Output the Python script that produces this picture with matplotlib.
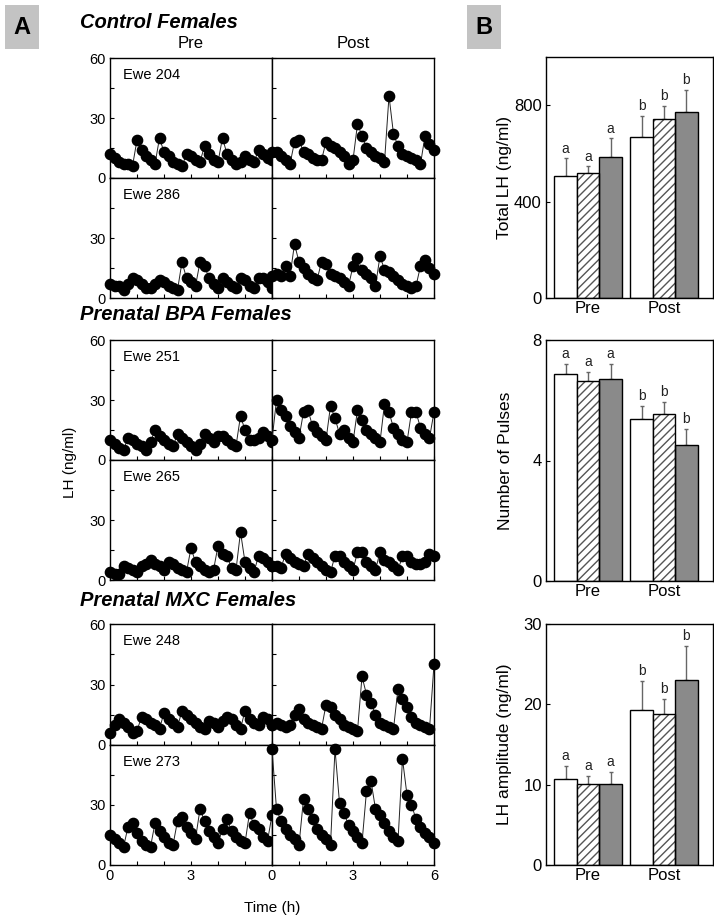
import matplotlib
matplotlib.use('Agg')
import matplotlib.pyplot as plt
from matplotlib.patches import Rectangle
import numpy as np

plt.rcParams['font.family'] = ['Liberation Sans', 'DejaVu Sans']

# ---------------- data ----------------
sample_minutes = np.arange(0, 361, 10)          # 10-min sampling, 6 h
times_h = sample_minutes / 60.0

ewe204_pre = [12,10,8,7,7,6,19,14,11,9,7,20,13,11,8,7,6,12,11,9,8,16,12,9,8,20,12,9,7,8,11,9,8,14,12,10,9]
ewe204_post = [13,13,11,9,7,18,19,13,12,10,9,9,18,16,15,13,11,7,9,27,21,15,13,11,10,8,41,22,16,12,11,10,9,7,21,17,14]
ewe286_pre = [7,6,6,4,7,10,9,7,5,5,7,9,8,6,5,4,18,10,8,6,18,16,10,7,5,10,8,6,5,10,9,6,5,10,10,8,5]
ewe286_post = [11,12,11,16,11,27,18,15,12,10,9,18,17,12,11,10,8,6,16,20,14,12,10,6,21,14,13,11,9,7,6,5,6,16,19,15,12]
ewe251_pre = [10,8,6,5,11,10,8,7,5,9,15,12,10,8,7,13,11,9,7,5,8,13,11,9,12,12,10,8,7,22,15,10,10,11,14,12,9]
ewe251_post = [10,30,25,22,17,14,11,24,25,17,14,12,10,27,21,13,15,11,9,25,20,15,13,11,9,28,24,16,13,10,9,24,24,16,13,11,24]
ewe265_pre = [4,3,3,7,6,5,4,7,8,10,8,7,5,9,8,6,5,4,16,9,7,5,4,5,17,13,12,6,5,24,9,6,4,12,11,9,7]
ewe265_post = [7,7,6,13,11,9,8,7,13,11,9,7,5,4,12,12,9,7,5,14,14,9,7,5,14,10,9,7,5,12,12,9,8,8,9,13,12]
ewe248_pre = [6,10,13,11,9,6,7,14,13,11,10,8,16,13,11,9,17,15,13,11,9,8,12,11,9,12,14,13,10,8,17,13,11,10,14,13,10]
ewe248_post = [10,11,10,9,10,15,18,13,11,10,9,8,20,19,15,13,10,9,8,7,34,25,21,15,11,10,9,8,28,23,19,14,11,10,9,8,40]
ewe273_pre = [15,13,11,9,19,21,16,12,10,9,21,17,14,11,10,22,24,19,16,13,28,22,17,14,11,18,23,17,14,12,11,26,20,18,14,12,25]
ewe273_post = [58,28,22,18,15,13,10,33,28,23,18,15,13,10,58,31,26,20,17,14,11,37,42,28,25,21,17,14,12,53,35,30,23,19,16,14,11]

group_titles = ['Control Females', 'Prenatal BPA Females', 'Prenatal MXC Females']
ewe_names = ['Ewe 204', 'Ewe 286', 'Ewe 251', 'Ewe 265', 'Ewe 248', 'Ewe 273']
pre_series = [ewe204_pre, ewe286_pre, ewe251_pre, ewe265_pre, ewe248_pre, ewe273_pre]
post_series = [ewe204_post, ewe286_post, ewe251_post, ewe265_post, ewe248_post, ewe273_post]

periods = ['Pre', 'Post']
total_lh_control = [508, 667]
total_lh_bpa = [517, 742]
total_lh_mxc = [583, 771]
total_lh_err_control = [71, 87]
total_lh_err_bpa = [29, 54]
total_lh_err_mxc = [79, 91]
total_lh_letters = ['a', 'b']

pulses_control = [6.88, 5.38]
pulses_bpa = [6.64, 5.55]
pulses_mxc = [6.70, 4.52]
pulses_err_control = [0.32, 0.42]
pulses_err_bpa = [0.30, 0.40]
pulses_err_mxc = [0.50, 0.53]
pulses_letters = ['a', 'b']

amp_control = [10.7, 19.3]
amp_bpa = [10.1, 18.8]
amp_mxc = [10.1, 23.0]
amp_err_control = [1.6, 3.6]
amp_err_bpa = [1.0, 1.9]
amp_err_mxc = [1.5, 4.3]
amp_letters = ['a', 'b']

# ---------------- figure ----------------
W, H = 714, 923
fig = plt.figure(figsize=(W / 100, H / 100), dpi=100)


def ax_px(l, t, r, b):
    return fig.add_axes([l / W, 1 - b / H, (r - l) / W, (b - t) / H])


def ftext(x, y, s, **kw):
    fig.text(x / W, 1 - y / H, s, **kw)


# panel letters
for (x0, lab) in [(5, 'A'), (467, 'B')]:
    fig.patches.append(Rectangle((x0 / W, 1 - 49 / H), 34 / W, 44 / H,
                                 transform=fig.transFigure, facecolor='#c3c3c3',
                                 edgecolor='none'))
    ftext(x0 + 17, 28, lab, ha='center', va='center', fontsize=17, fontweight='bold')

# ---------------- panel A ----------------
row_px = [(58, 178), (178, 298), (340, 460), (460, 580), (624, 745), (745, 865)]
title_y = [22, 315, 600]

for i, (top, bot) in enumerate(row_px):
    first_in_group = (i % 2 == 0)
    last_row = (i == len(row_px) - 1)
    for j, (l, r) in enumerate([(110, 272), (272, 434)]):
        ax = ax_px(l, top, r, bot)
        data = pre_series[i] if j == 0 else post_series[i]
        ax.plot(times_h, data, color='#222222', lw=0.7, marker='o', ms=7.4,
                mfc='black', mec='black', clip_on=False, zorder=3)
        ax.set_xlim(0, 6)
        ax.set_ylim(0, 60)
        ax.set_xticks(range(7))
        ax.set_yticks([0, 30, 60])
        ax.set_yticks([15, 45], minor=True)
        ax.tick_params(which='both', direction='in', length=3, width=0.8,
                       labelsize=10.5, pad=3)
        if j == 0:
            ax.set_yticklabels(['0', '30', '60' if first_in_group else ''])
        else:
            ax.set_yticklabels([])
        if last_row:
            if j == 0:
                ax.set_xticklabels(['0', '', '', '3', '', '', ''])
            else:
                ax.set_xticklabels(['0', '', '', '3', '', '', '6'])
        else:
            ax.set_xticklabels([])
        for s in ax.spines.values():
            s.set_linewidth(1.0)
    ftext(123, top + 17, ewe_names[i], ha='left', va='center', fontsize=10.5)

for k, ty in enumerate(title_y):
    ftext(80, ty, group_titles[k], ha='left', va='center', fontsize=14.5,
          fontweight='bold', fontstyle='italic')

ftext(191, 44, 'Pre', ha='center', va='center', fontsize=12)
ftext(353, 44, 'Post', ha='center', va='center', fontsize=12)
ftext(70, 462, 'LH (ng/ml)', ha='center', va='center', fontsize=11, rotation=90)
ftext(272, 908, 'Time (h)', ha='center', va='center', fontsize=11)

# ---------------- panel B ----------------
bar_w = 0.296
x = np.arange(len(periods))


def bar_panel(top, bot, ctrl, bpa, mxc, e_c, e_b, e_m, letters, ylim, yticks, ylabel):
    ax = ax_px(546, top, 713, bot)
    offs = [-bar_w, 0, bar_w]
    vals = [ctrl, bpa, mxc]
    errs = [e_c, e_b, e_m]
    styles = [dict(color='white'), dict(color='white'), dict(color='#8a8a8a')]
    for k in range(3):
        xs = x + offs[k]
        if k == 1:
            ax.bar(xs, vals[k], bar_w, color='white', edgecolor='#555555',
                   hatch='////', linewidth=0, zorder=2)
            ax.bar(xs, vals[k], bar_w, fill=False, edgecolor='black',
                   linewidth=1.0, zorder=3)
        else:
            ax.bar(xs, vals[k], bar_w, edgecolor='black', linewidth=1.0,
                   zorder=2, **styles[k])
        ax.errorbar(xs, vals[k], yerr=[np.zeros(len(xs)), errs[k]], fmt='none',
                    ecolor='#666666', elinewidth=1.0, capsize=1.5, capthick=1.0,
                    zorder=1)
        for m in range(len(xs)):
            ax.text(xs[m], vals[k][m] + errs[k][m] + (ylim[1] * 0.012), letters[m],
                    ha='center', va='bottom', fontsize=10, color='#222222')
    ax.set_xlim(-0.553, 1.645)
    ax.set_ylim(*ylim)
    ax.set_yticks(yticks)
    ax.set_xticks(x)
    ax.set_xticklabels(periods)
    ax.tick_params(axis='x', length=0, labelsize=12, pad=2)
    ax.tick_params(axis='y', direction='in', length=3, width=0.8, labelsize=12, pad=3)
    for s in ax.spines.values():
        s.set_linewidth(1.0)
    ftext(505, (top + bot) / 2, ylabel, ha='center', va='center', fontsize=12.5,
          rotation=90)


bar_panel(57, 298, total_lh_control, total_lh_bpa, total_lh_mxc,
          total_lh_err_control, total_lh_err_bpa, total_lh_err_mxc,
          total_lh_letters, (0, 1000), [0, 400, 800], 'Total LH (ng/ml)')
bar_panel(340, 581, pulses_control, pulses_bpa, pulses_mxc,
          pulses_err_control, pulses_err_bpa, pulses_err_mxc,
          pulses_letters, (0, 8), [0, 4, 8], 'Number of Pulses')
bar_panel(624, 865, amp_control, amp_bpa, amp_mxc,
          amp_err_control, amp_err_bpa, amp_err_mxc,
          amp_letters, (0, 30), [0, 10, 20, 30], 'LH amplitude (ng/ml)')

fig.savefig('out.png', dpi=100)
